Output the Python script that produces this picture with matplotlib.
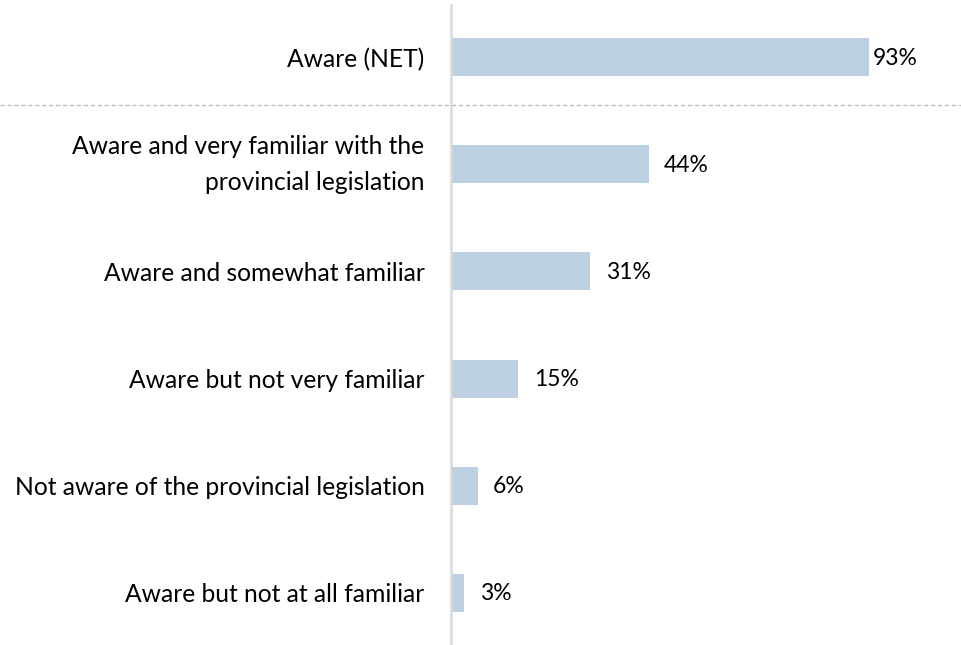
import matplotlib
matplotlib.use("Agg")
import matplotlib.pyplot as plt
from matplotlib.transforms import blended_transform_factory

categories = [
    "Aware (NET)",
    "Aware and very familiar with the\nprovincial legislation",
    "Aware and somewhat familiar",
    "Aware but not very familiar",
    "Not aware of the provincial legislation",
    "Aware but not at all familiar",
]
values = [93, 44, 31, 15, 6, 3]
value_labels = ["93%", "44%", "31%", "15%", "6%", "3%"]

plt.rcParams["font.family"] = ["Lato", "DejaVu Sans"]

fig = plt.figure(figsize=(9.61, 6.45), dpi=100)
ax = fig.add_axes([451 / 961, 0, 1 - 451 / 961, 640 / 645])

pos = list(range(len(categories)))
ax.barh(pos, values, height=0.355, color="#bdd0e1", zorder=2)

for i, (v, lab) in enumerate(zip(values, value_labels)):
    off = 3 if i == 0 else 11
    ax.annotate(lab, (v, i), xytext=(off, -1), textcoords="offset points",
                va="center", ha="left", fontsize=16.5, color="#000000")

ax.set_xlim(0, 113.5)
ax.set_ylim(5.49, -0.49)

ax.set_yticks(pos)
ax.set_yticklabels(categories, fontsize=17.7, ha="right", linespacing=1.65)
for t in ax.get_yticklabels():
    if "\n" in t.get_text():
        t.set_verticalalignment("center")
ax.tick_params(axis="y", length=0, pad=19)
ax.set_xticks([])

for side in ["top", "right", "bottom"]:
    ax.spines[side].set_visible(False)
ax.spines["left"].set_color("#d9d9d9")
ax.spines["left"].set_linewidth(1.8)

# dashed separator under the NET row, across the full figure width
trans = blended_transform_factory(fig.transFigure, ax.transData)
ax.plot([0, 1], [0.44, 0.44], transform=trans, color="#bfbfbf",
        linestyle=(0, (3, 2)), linewidth=1, clip_on=False, zorder=1)

fig.savefig("out.png", dpi=100)
